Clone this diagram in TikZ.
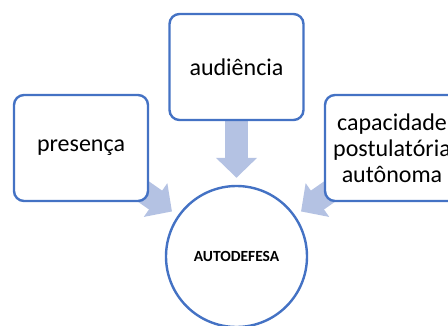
\documentclass[tikz,border=0pt]{standalone}
\usepackage{fontspec}
\setmainfont{Carlito}
\usetikzlibrary{arrows.meta,positioning,calc}
\definecolor{rand}{HTML}{4472C4}
\definecolor{pijl}{HTML}{B4C2E3}
\tikzset{
  vak/.style={draw=rand, line width=2.4pt, fill=white, rounded corners=10pt,
    minimum width=134pt, minimum height=106pt, align=center, inner sep=0pt,
    font=\fontsize{24}{26}\selectfont},
  kring/.style={draw=rand, line width=2.4pt, fill=white, circle,
    minimum size=141pt, inner sep=0pt, font=\fontsize{15.5}{18}\selectfont\bfseries},
  blokpijl/.style={draw=pijl, line width=23pt,
    -{Triangle[width=40pt,length=20pt]}, shorten >=7pt}
}
\begin{document}
\begin{tikzpicture}[x=1pt,y=-1pt]
		\def\xLinks{81}
		\def\xMidden{236.5}
		\def\xRechts{392}
		\def\yBoven{67}
		\def\yZij{148}
		\def\yKring{256.5}

\useasboundingbox (0,0) rectangle (448,325);

\node[kring] (auto) at (\xMidden,\yKring) {AUTODEFESA};
\coordinate (pres-c) at (\xLinks,\yZij);
\coordinate (aud-c) at (\xMidden,\yBoven);
\coordinate (cap-c) at (\xRechts,\yZij);

\draw[blokpijl] (pres-c) -- (auto);
\draw[blokpijl] (aud-c) -- (auto);
\draw[blokpijl] (cap-c) -- (auto);

\node[vak] (pres) at (pres-c) {presença};
\node[vak] (aud) at (aud-c) {audiência};
\node[vak] (cap) at (cap-c) {capacidade\\postulatória\\autônoma};

	\end{tikzpicture}
\end{document}
